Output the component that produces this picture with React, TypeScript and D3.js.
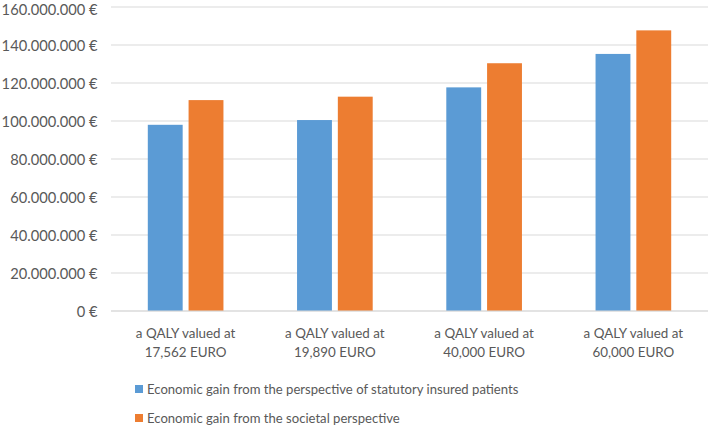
import React from "react";
import * as d3 from "d3";

const categories = [
  ["a QALY valued at", "17,562 EURO"],
  ["a QALY valued at", "19,890 EURO"],
  ["a QALY valued at", "40,000 EURO"],
  ["a QALY valued at", "60,000 EURO"],
];
const seriesNames = [
  "Economic gain from the perspective of statutory insured patients",
  "Economic gain from the societal perspective",
];
const insuredValues = [98.0e6, 100.5e6, 117.7e6, 135.3e6];
const societalValues = [111.0e6, 112.8e6, 130.4e6, 147.7e6];
const yTicks = [0, 20e6, 40e6, 60e6, 80e6, 100e6, 120e6, 140e6, 160e6];

const colors = ["#5B9BD5", "#ED7D31"];
const font = "Lato, 'Open Sans', sans-serif";

export default function App() {
  const width = 708;
  const height = 428;
  const left = 111;
  const right = 708;
  const top = 7;
  const bottom = 311;

  const x = d3
    .scaleBand<number>()
    .domain(categories.map((_, i) => i))
    .range([left, right])
    .paddingInner(0)
    .paddingOuter(0);
  const inner = d3
    .scaleBand<number>()
    .domain([0, 1])
    .range([36.8, x.bandwidth() - 36.8])
    .paddingInner(0.145);
  const y = d3.scaleLinear().domain([0, 160e6]).range([bottom, top]);

  const fmt = (v: number) =>
    v === 0 ? "0 €" : d3.format(",")(v).replace(/,/g, ".") + " €";

  const series = [insuredValues, societalValues];

  return (
    <svg
      width={width}
      height={height}
      style={{ position: "absolute", left: 0, top: 0, background: "#fff" }}
      fontFamily={font}
    >
      {/* gridlines and y labels */}
      {yTicks.map((t) => (
        <g key={t}>
          <line
            x1={left}
            x2={right}
            y1={y(t)}
            y2={y(t)}
            stroke="#D9D9D9"
            strokeWidth={1.2}
          />
          <text
            x={97.5}
            y={Math.max(y(t) + 0.5, 9.5)}
            dy="0.36em"
            textAnchor="end"
            fontSize={14.7}
            fill="#595959"
          >
            {fmt(t)}
          </text>
        </g>
      ))}

      {/* bars */}
      {series.map((vals, s) =>
        vals.map((v, i) => (
          <rect
            key={`${s}-${i}`}
            x={(x(i) ?? 0) + (inner(s) ?? 0)}
            y={y(v)}
            width={inner.bandwidth()}
            height={y(0) - y(v)}
            fill={colors[s]}
          />
        ))
      )}

      {/* x axis line */}
      <line x1={left} x2={right} y1={y(0)} y2={y(0)} stroke="#D9D9D9" strokeWidth={1.2} />

      {/* category labels */}
      {categories.map((lines, i) => (
        <text
          key={i}
          x={(x(i) ?? 0) + x.bandwidth() / 2}
          textAnchor="middle"
          fontSize={13.4}
          fill="#595959"
        >
          {lines.map((l, j) => (
            <tspan key={j} x={(x(i) ?? 0) + x.bandwidth() / 2} y={338 + j * 19}>
              {l}
            </tspan>
          ))}
        </text>
      ))}

      {/* legend */}
      {seriesNames.map((name, s) => (
        <g key={name} transform={`translate(135, ${389 + s * 29})`}>
          <rect x={0} y={-4} width={8} height={8} fill={colors[s]} />
          <text x={12} dy="0.35em" fontSize={13.1} fill="#595959">
            {name}
          </text>
        </g>
      ))}
    </svg>
  );
}
